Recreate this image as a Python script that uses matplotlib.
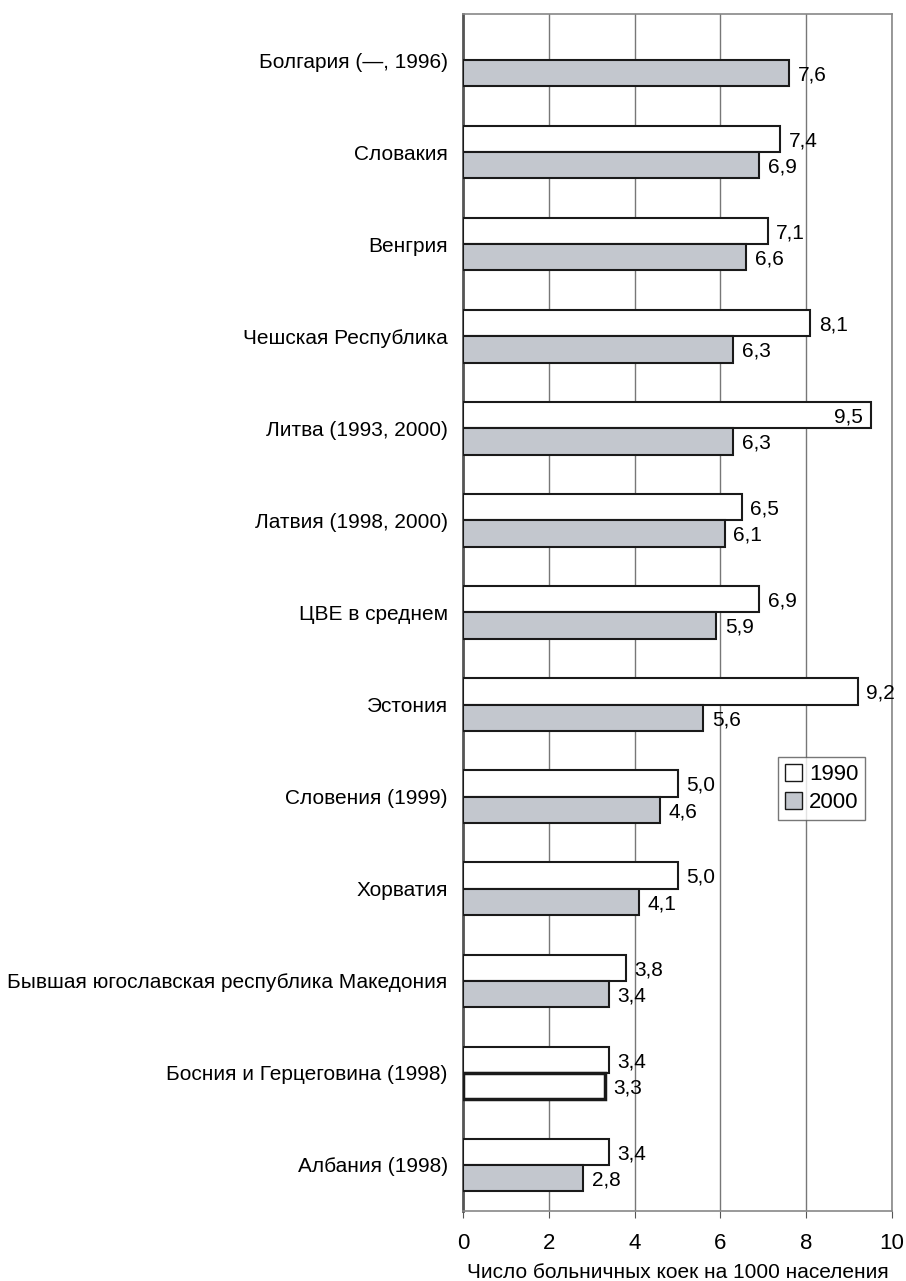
import numpy as np
import matplotlib.pyplot as plt

plt.rcParams['font.family'] = ['Liberation Sans', 'DejaVu Sans']

countries = ['Болгария (—, 1996)', 'Словакия', 'Венгрия', 'Чешская Республика',
             'Литва (1993, 2000)', 'Латвия (1998, 2000)', 'ЦВЕ в среднем', 'Эстония',
             'Словения (1999)', 'Хорватия', 'Бывшая югославская республика Македония',
             'Босния и Герцеговина (1998)', 'Албания (1998)']
beds_1990 = [np.nan, 7.4, 7.1, 8.1, 9.5, 6.5, 6.9, 9.2, 5.0, 5.0, 3.8, 3.4, 3.4]
beds_2000 = [7.6, 6.9, 6.6, 6.3, 6.3, 6.1, 5.9, 5.6, 4.6, 4.1, 3.4, 3.3, 2.8]
x_ticks = [0, 2, 4, 6, 8, 10]

fig = plt.figure(figsize=(9.06, 12.81), dpi=100)
ax = fig.add_axes([463 / 906, 70 / 1281, 429 / 906, 1197 / 1281])

n = len(countries)
y = np.arange(n)
h = 0.285
fill_2000 = '#c3c7ce'
colors_2000 = [fill_2000] * n
colors_2000[11] = 'white'  # as printed in the source
lw_2000 = [1.5] * n
lw_2000[11] = 2.5

ax.barh(y - h / 2, beds_1990, height=h, color='white', edgecolor='#1a1a1a', linewidth=1.5,
        label='1990', zorder=3)
ax.barh(y + h / 2, beds_2000, height=h, color=colors_2000, edgecolor='#1a1a1a',
        linewidth=lw_2000, label='2000', zorder=3)


def fmt(v):
    return '{:.1f}'.format(v).replace('.', ',')


for i in range(n):
    for v, off in ((beds_1990[i], -h / 2), (beds_2000[i], h / 2)):
        if np.isnan(v):
            continue
        if v + 0.8 > 10:
            ax.text(v - 0.18, i + off + 0.02, fmt(v), ha='right', va='center', fontsize=15, zorder=4)
        else:
            ax.text(v + 0.2, i + off + 0.02, fmt(v), ha='left', va='center', fontsize=15, zorder=4)

ax.set_xlim(0, 10)
ax.set_ylim(n - 0.5, -0.5)
ax.set_xticks(x_ticks)
ax.set_xticklabels([str(t) for t in x_ticks], fontsize=16)
ax.set_yticks(y)
ax.set_yticklabels(countries, fontsize=15)
ax.tick_params(axis='y', length=0, pad=11)
ax.tick_params(axis='x', direction='out', length=5, color='#555555', pad=11)
ax.xaxis.grid(True, color='#777777', linewidth=1)
ax.set_axisbelow(True)

for s in ['top', 'right', 'bottom']:
    ax.spines[s].set_color('#888888')
    ax.spines[s].set_linewidth(1.2)
ax.spines['left'].set_color('#555555')
ax.spines['left'].set_linewidth(2)

ax.set_xlabel('Число больничных коек на 1000 населения', fontsize=15, labelpad=6)

leg = ax.legend(loc='upper left', bbox_to_anchor=(0.734, 0.379), fontsize=16,
                frameon=True, fancybox=False, handlelength=0.8, handleheight=0.8,
                handletextpad=0.3, borderpad=0.3, labelspacing=0.3, borderaxespad=0)
leg.get_frame().set_edgecolor('#555555')
leg.get_frame().set_linewidth(1)
for p in leg.get_patches():
    p.set_linewidth(1)

fig.savefig('out.png', dpi=100)
